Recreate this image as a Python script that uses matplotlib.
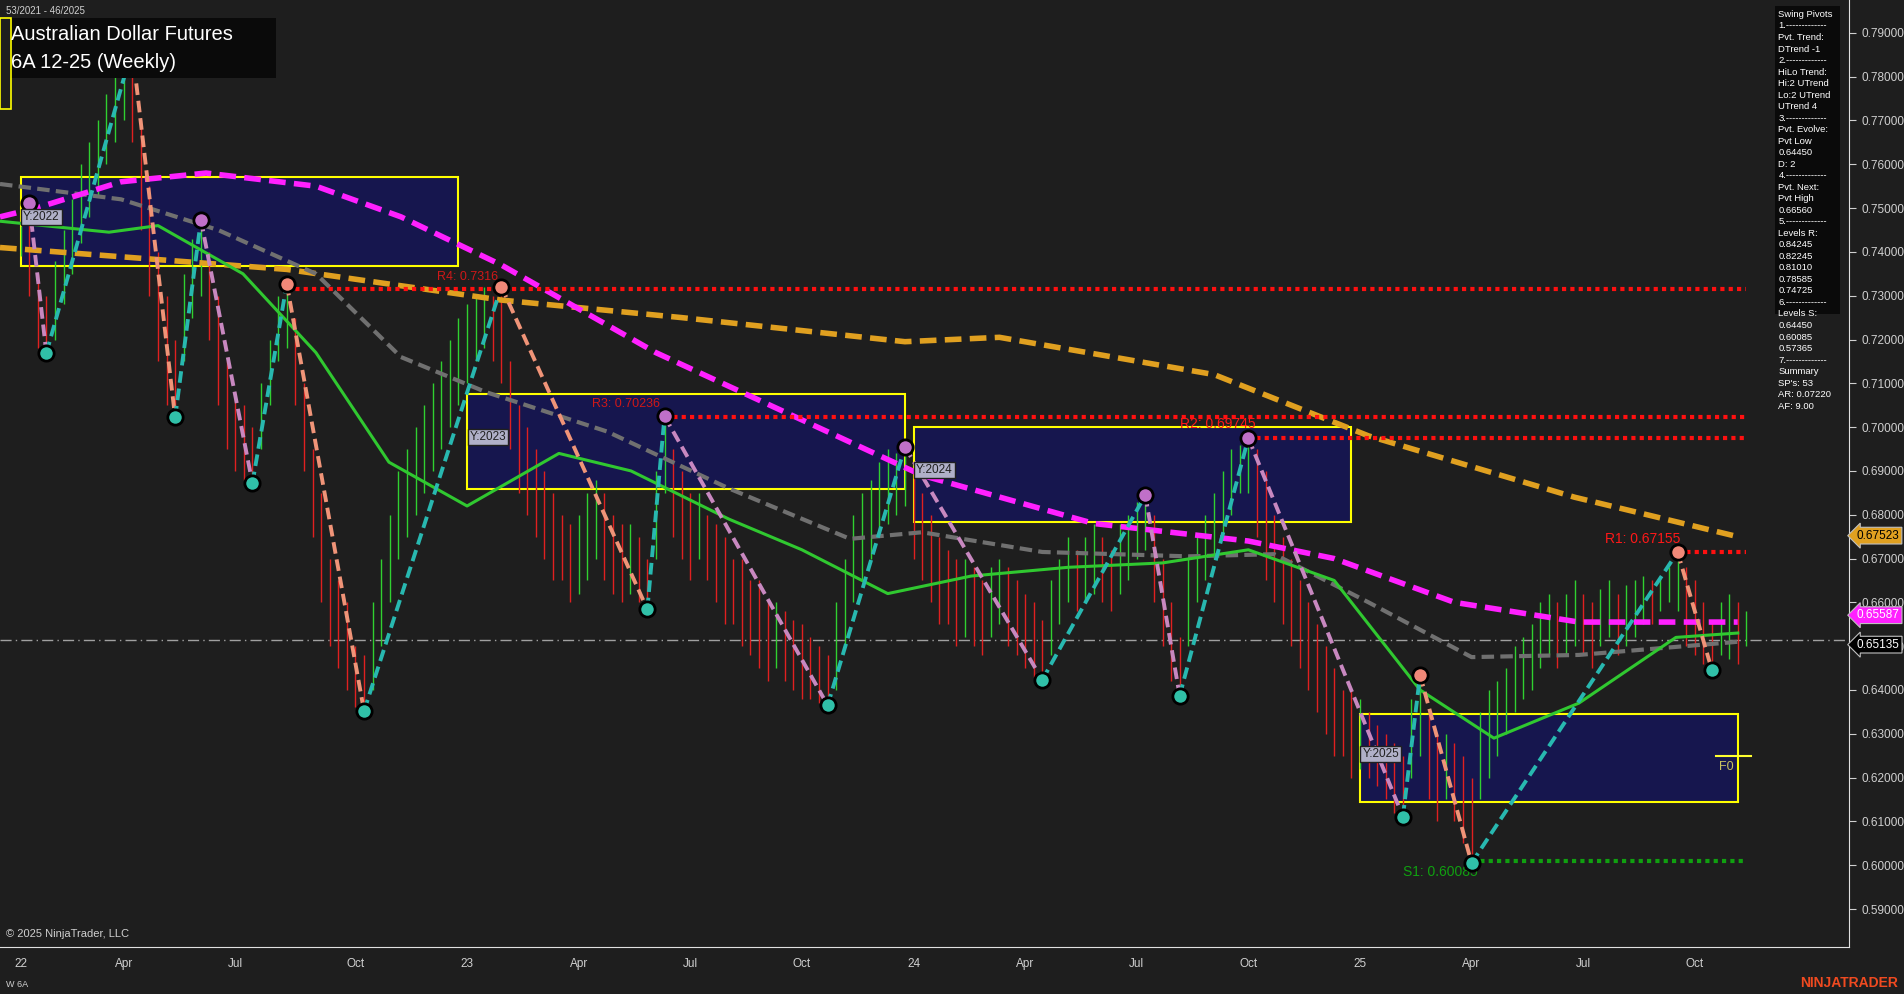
import numpy as np
import matplotlib
matplotlib.use('Agg')
import matplotlib.pyplot as plt
import matplotlib.transforms as mtrans
from matplotlib.patches import Rectangle

plt.rcParams['font.family'] = ['Liberation Sans', 'DejaVu Sans']

# weekly bars, low/high in 1e-4 units, week 0 = first week of 2022
lows = [7390,7300,7180,7169,7200,7280,7350,7420,7480,7530,
        7600,7650,7700,7650,7450,7300,7150,7050,7022,7150,
        7250,7300,7200,7050,6950,6900,6880,6872,6950,7050,
        7150,7180,7050,6900,6750,6600,6500,6450,6400,6360,
        6352,6400,6500,6600,6700,6750,6800,6850,6900,6950,
        7000,7050,7100,7150,7180,7150,7100,6950,6850,6800,
        6750,6700,6650,6650,6600,6620,6650,6700,6650,6620,
        6600,6620,6600,6584,6700,6850,6750,6700,6650,6700,
        6650,6600,6550,6550,6500,6480,6450,6420,6450,6420,
        6400,6380,6380,6370,6365,6400,6500,6600,6650,6700,
        6750,6780,6800,6820,6700,6650,6600,6550,6550,6500,
        6520,6500,6480,6520,6550,6500,6480,6450,6430,6423,
        6480,6550,6600,6580,6600,6620,6600,6580,6620,6650,
        6700,6720,6600,6500,6420,6387,6500,6600,6650,6700,
        6750,6800,6850,6850,6750,6650,6600,6550,6500,6450,
        6400,6350,6300,6250,6250,6200,6220,6200,6180,6150,
        6120,6111,6200,6250,6150,6100,6150,6100,6050,6005,
        6150,6200,6250,6300,6350,6380,6400,6450,6480,6450,
        6480,6500,6480,6450,6500,6520,6480,6500,6520,6550,
        6550,6580,6600,6580,6500,6480,6460,6445,6480,6470,
        6460,6500]
highs = [7460,7512,7350,7300,7380,7450,7520,7600,7650,7700,
         7760,7820,7840,7864,7700,7550,7400,7300,7200,7350,
         7430,7473,7400,7300,7150,7080,7050,7000,7100,7200,
         7300,7327,7250,7100,6950,6850,6700,6650,6600,6500,
         6480,6600,6700,6800,6900,6950,7000,7050,7100,7150,
         7200,7250,7280,7300,7320,7300,7321,7150,7050,7000,
         6950,6900,6850,6800,6780,6800,6850,6880,6850,6800,
         6780,6780,6750,6700,6900,7025,6950,6900,6850,6850,
         6800,6780,6750,6700,6700,6650,6650,6600,6600,6580,
         6560,6550,6520,6500,6480,6600,6700,6800,6850,6880,
         6920,6950,6940,6955,6900,6850,6800,6750,6720,6700,
         6700,6680,6650,6680,6700,6680,6650,6620,6600,6560,
         6650,6700,6750,6720,6750,6780,6750,6720,6780,6800,
         6830,6845,6800,6700,6600,6520,6700,6750,6800,6850,
         6900,6950,6960,6975,6950,6900,6800,6750,6700,6650,
         6600,6550,6500,6450,6400,6400,6380,6350,6320,6300,
         6280,6250,6380,6434,6350,6300,6300,6280,6250,6200,
         6350,6400,6420,6450,6500,6520,6550,6600,6620,6600,
         6620,6650,6620,6600,6630,6650,6620,6640,6650,6660,
         6650,6660,6680,6715,6680,6650,6600,6560,6600,6620,
         6600,6580]

# swing pivots (week, price); highs and lows alternate
piv_w = [1, 3, 13, 18, 21, 27, 31, 40, 56, 73, 75, 94, 103, 119, 131, 135, 143, 161, 163, 169, 193, 197]
piv_p = [0.7512, 0.7169, 0.7864, 0.7022, 0.7473, 0.6872, 0.7327, 0.6352, 0.7321, 0.6584, 0.7025,
         0.6365, 0.6955, 0.6423, 0.6845, 0.6387, 0.6975, 0.6111, 0.6434, 0.6005, 0.6715, 0.6445]
piv_hi = [True, False] * 11
piv_purple = [1, 21, 75, 103, 131, 143]

# moving averages (week, price)
ma_or_w = [-2.4, 31, 56, 77, 103, 114, 139, 157, 181, 200]
ma_or = [0.741, 0.736, 0.729, 0.725, 0.7195, 0.7205, 0.712, 0.698, 0.684, 0.675]
ma_mg_w = [-2.4, 1.8, 11.7, 21.6, 34.4, 44.3, 56, 74, 89.5, 105, 125, 143, 153, 167, 181.5, 200]
ma_mg = [0.748, 0.750, 0.756, 0.758, 0.755, 0.748, 0.737, 0.717, 0.703, 0.689, 0.678, 0.674,
         0.670, 0.660, 0.6555, 0.6555]
ma_gy_w = [-2.4, 11.7, 23, 34.4, 44.3, 54.2, 68.3, 82.5, 96.6, 105, 119, 136, 146, 157, 169, 181.5, 200]
ma_gy = [0.7555, 0.752, 0.745, 0.735, 0.716, 0.708, 0.699, 0.686, 0.6745, 0.676, 0.6715, 0.6705,
         0.671, 0.660, 0.6475, 0.648, 0.651]
ma_gr_w = [-2.4, 10.3, 16, 25.9, 34.4, 42.9, 52, 62.7, 71.1, 82.5, 91, 101, 110.7, 122, 133, 143,
           153, 163, 171.6, 181.5, 192.8, 200]
ma_gr = [0.747, 0.7445, 0.746, 0.735, 0.717, 0.692, 0.682, 0.694, 0.690, 0.679, 0.672, 0.662,
         0.666, 0.668, 0.669, 0.672, 0.665, 0.640, 0.629, 0.637, 0.652, 0.653]

# levels: name, price, start week
levels = [('R4', 0.7316, 31), ('R3', 0.70236, 75), ('R2', 0.69745, 143), ('R1', 0.67155, 193)]
s1 = 0.60085
last_price = 0.65135

# yearly boxes: label, week start, week end, low, high
boxes = [('Y:2022', 0, 51, 0.7368, 0.7570), ('Y:2023', 52, 103, 0.6858, 0.7075),
         ('Y:2024', 104, 155, 0.6784, 0.7000), ('Y:2025', 156, 200, 0.6144, 0.6345)]

tick_w = [0, 12, 25, 39, 52, 65, 78, 91, 104, 117, 130, 143, 156, 169, 182, 195]
tick_lab = ['22', 'Apr', 'Jul', 'Oct', '23', 'Apr', 'Jul', 'Oct', '24', 'Apr', 'Jul', 'Oct',
            '25', 'Apr', 'Jul', 'Oct']

panel = ("Swing Pivots\n1.-------------\nPvt. Trend:\nDTrend -1\n2.-------------\nHiLo Trend:\n"
         "Hi:2 UTrend\nLo:2 UTrend\nUTrend 4\n3.-------------\nPvt. Evolve:\nPvt Low\n0.64450\nD: 2\n"
         "4.-------------\nPvt. Next:\nPvt High\n0.66560\n5.-------------\nLevels R:\n0.84245\n0.82245\n"
         "0.81010\n0.78585\n0.74725\n6.-------------\nLevels S:\n0.64450\n0.60085\n0.57365\n"
         "7.-------------\nSummary\nSP's: 53\nAR: 0.07220\nAF: 9.00")

BG = '#1e1e1e'
fig = plt.figure(figsize=(19.04, 9.94), dpi=100, facecolor=BG)
ax = fig.add_axes([0, 0.0476, 0.9713, 0.9524], facecolor=BG)
ax.set_xlim(-2.4, 213)
ax.set_ylim(0.5814, 0.7975)

# boxes behind everything
for lab, w0, w1, lo, hi in boxes:
    ax.add_patch(Rectangle((w0, lo), w1 - w0, hi - lo, facecolor='#16164e', edgecolor='#ffff00', lw=1.5, zorder=1))
    ax.text(w0 + 0.3, hi - 0.45 * (hi - lo), lab, color='#202020', fontsize=8.5, va='center', zorder=8,
            bbox=dict(facecolor='#b0b0c8', edgecolor='#202020', pad=1.5))
ax.plot([197.5, 201.5], [0.6249, 0.6249], color='#ffff30', lw=1.5, zorder=2)
ax.text(197.8, 0.6237, 'F0', color='#c8c060', fontsize=9, va='top', zorder=6)

ax.axhline(last_price, color='#a0a0a0', lw=1, ls=(0, (8, 3, 1, 3)), zorder=2)

# bars
weeks = np.arange(len(lows))
mids = (np.array(lows) + np.array(highs)) / 2
for i in weeks:
    up = i == 0 or mids[i] >= mids[i - 1]
    ax.vlines(i, lows[i] / 1e4, highs[i] / 1e4, color='#30d030' if up else '#e02020', lw=1.0, zorder=3)

# moving averages
ax.plot(ma_or_w, ma_or, color='#e0a020', lw=4, ls=(0, (3, 1.5)), zorder=4)
ax.plot(ma_gy_w, ma_gy, color='#707070', lw=3, ls=(0, (3, 1.5)), zorder=4)
ax.plot(ma_mg_w, ma_mg, color='#ff20ff', lw=4, ls=(0, (3, 1.5)), zorder=4)
ax.plot(ma_gr_w, ma_gr, color='#30c830', lw=2.2, zorder=4)

# levels
for name, p, w0 in levels:
    ax.plot([w0, 201], [p, p], color='#ff1010', lw=3, ls=(0, (1, 1)), zorder=4)
ax.plot([169, 201], [s1, s1], color='#10a010', lw=3, ls=(0, (1, 1)), zorder=4)
ax.text(48.5, 0.7335, 'R4: 0.7316', color='#d01818', fontsize=9, zorder=5)
ax.text(66.5, 0.7045, 'R3: 0.70236', color='#d01818', fontsize=9, zorder=5)
ax.text(135, 0.6997, 'R2: 0.69745', color='#ff1818', fontsize=10, zorder=5)
ax.text(184.5, 0.6735, 'R1: 0.67155', color='#ff1818', fontsize=10, zorder=5)
ax.text(161, 0.5975, 'S1: 0.60085', color='#10a010', fontsize=10, zorder=5)

# zigzag
for k in range(len(piv_w) - 1):
    rising = piv_p[k + 1] > piv_p[k]
    c = '#28b8b0' if rising else ('#c888c0' if piv_w[k] in piv_purple else '#f09478')
    ax.plot(piv_w[k:k + 2], piv_p[k:k + 2], color=c, lw=2.8, ls=(0, (3, 1.5)), zorder=5)
for w, p, hi in zip(piv_w, piv_p, piv_hi):
    fc = ('#c070c8' if w in piv_purple else '#f08878') if hi else '#30c0a8'
    ax.plot(w, p, 'o', ms=11, mfc=fc, mec='black', mew=2, zorder=6)

# axes styling
ax.yaxis.tick_right()
ax.set_yticks(np.arange(0.59, 0.7901, 0.01))
ax.yaxis.set_major_formatter(matplotlib.ticker.FuncFormatter(lambda v, _: f'{v:.5f}'))
ax.set_xticks(tick_w)
ax.set_xticklabels(tick_lab)
ax.tick_params(colors='#d0d0d0', labelsize=8.5, length=5)
ax.tick_params(axis='x', length=0, pad=8)
for s in ['top', 'left']:
    ax.spines[s].set_visible(False)
ax.spines['right'].set_color('#e0e0e0')
ax.spines['bottom'].set_color('#e0e0e0')

# price tags on the right axis
tr = mtrans.blended_transform_factory(ax.transAxes, ax.transData)
for p, fc, tc, dy in [(0.67523, '#e0a020', 'black', 0), (0.65587, '#ff20ff', 'white', 0.0012),
                      (last_price, 'black', 'white', -0.0010)]:
    ax.text(1.004, p + dy, f'{p:.5f}', transform=tr, color=tc, fontsize=8.5, va='center', clip_on=False,
            zorder=10, bbox=dict(boxstyle='larrow,pad=0.2', facecolor=fc, edgecolor='#c0c0c0', lw=0.8))

# title and texts
fig.patches.append(Rectangle((0.005, 0.922), 0.14, 0.06, transform=fig.transFigure, facecolor='#0a0a0a'))
fig.patches.append(Rectangle((0.0, 0.89), 0.006, 0.092, transform=fig.transFigure, facecolor='none',
                             edgecolor='#ffff00', lw=1.2))
fig.text(0.006, 0.965, 'Australian Dollar Futures', color='white', fontsize=14.5, va='center')
fig.text(0.006, 0.937, '6A 12-25 (Weekly)', color='white', fontsize=14.5, va='center')
fig.text(0.003, 0.989, '53/2021 - 46/2025', color='#d0d0d0', fontsize=7, va='center')
fig.text(0.003, 0.06, '© 2025 NinjaTrader, LLC', color='#d0d0d0', fontsize=8, va='center')
fig.text(0.003, 0.01, 'W 6A', color='#d0d0d0', fontsize=6.5, va='center')
fig.text(0.997, 0.011, 'NINJATRADER', color='#f04a20', fontsize=10, weight='bold', ha='right', va='center')

fig.patches.append(Rectangle((0.9325, 0.684), 0.034, 0.31, transform=fig.transFigure, facecolor='#0a0a0a'))
fig.text(0.934, 0.99, panel, color='white', fontsize=6.8, va='top', linespacing=1.36)

fig.savefig('out.png', dpi=100, facecolor=BG)
